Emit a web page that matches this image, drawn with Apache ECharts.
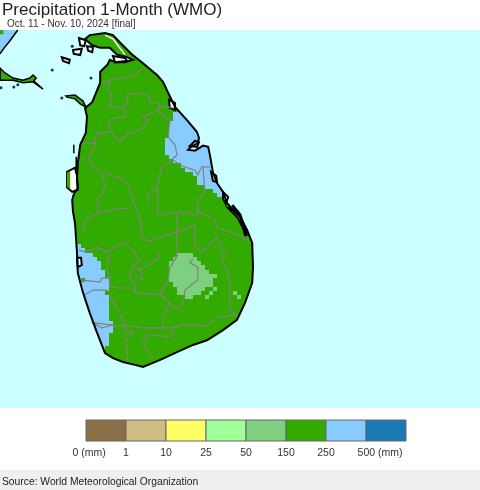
<!DOCTYPE html>
<html lang="en">
<head>
    <meta charset="UTF-8">
    <title>Precipitation 1-Month (WMO)</title>
    <style type="text/css">
        html,body{margin:0;padding:0;background:#fff;}
        #main{width:480px;height:490px;}
    </style>
</head>
<body>
<div id="main"></div>
<script src="https://cdn.jsdelivr.net/npm/echarts@6/dist/echarts.min.js"></script>
<script>
    var titleText = 'Precipitation 1-Month (WMO)';
    var subtitleText = 'Oct. 11 - Nov. 10, 2024 [final]';
    var sourceText = 'Source: World Meteorological Organization';

    // legend classes
    var legendColors = ['#8b6f47', '#d0bd86', '#ffff66', '#a0ff99', '#7fcf80', '#33aa00', '#88ccff', '#1a7ab5'];
    var legendTicks = ['0 (mm)', '1', '10', '25', '50', '150', '250', '500 (mm)'];

    // 0.05 degree raster, [row, first col, end col], counted from 78.75E / 9.85N
    var wetRuns = [
        [19,43,58],[20,43,58],[21,42,58],[22,42,58],[23,42,58],[24,42,58],[25,41,58],[26,41,58],[27,41,58],[28,41,58],
        [29,42,58],[30,43,58],[31,45,58],[32,46,58],[33,48,58],[34,49,58],[35,49,58],[36,51,58],[37,53,60],[38,54,60],
        [50,15,20],[51,15,21],[52,15,23],[53,15,24],[54,15,25],[55,15,25],[56,15,26],[57,15,26],[58,15,27],[59,15,27],
        [60,15,27],[61,15,27],[62,15,27],[63,15,27],[64,15,27],[65,15,27],[66,15,27],[67,15,27],[68,15,28],[69,15,28],
        [70,15,28],[71,15,27],[72,15,27],[73,15,27],[74,15,26],[75,15,26]
    ];
    var midRuns = [
        [52,44,48],[53,43,49],[54,42,50],[55,42,51],[56,42,52],[57,42,54],[58,42,53],[59,43,53],[60,44,51],[60,53,54],
        [61,44,50],[61,52,53],[61,58,59],[62,46,48],[62,51,52],[62,59,60]
    ];
    var highRuns = [[58,20,21],[61,26,27]];

    // lon, lat
    var coast = [
        [79.99,9.38],[80.08,9.46],[80.11,9.52],[80.18,9.49],[80.30,9.49],[80.40,9.52],[80.325,9.55],[80.20,9.58],
        [80.11,9.66],[79.99,9.66],[79.89,9.69],[79.80,9.765],[79.86,9.81],[80.05,9.835],[80.15,9.81],[80.24,9.72],
        [80.39,9.58],[80.525,9.48],[80.70,9.34],[80.775,9.26],[80.84,9.13],[80.925,8.965],[81.075,8.81],[81.20,8.67],
        [81.225,8.60],[81.21,8.54],[81.125,8.495],[81.09,8.46],[81.175,8.45],[81.275,8.51],[81.34,8.495],[81.365,8.38],
        [81.40,8.19],[81.45,8.07],[81.525,7.965],[81.575,7.835],[81.65,7.75],[81.74,7.67],[81.825,7.52],[81.89,7.365],
        [81.90,7.08],[81.89,6.895],[81.80,6.66],[81.70,6.46],[81.525,6.34],[81.325,6.22],[81.15,6.165],[80.95,6.08],
        [80.74,5.99],[80.525,5.905],[80.425,5.93],[80.275,5.965],[80.15,6.01],[80.05,6.07],[79.95,6.31],[79.86,6.54],
        [79.775,6.78],[79.71,7.01],[79.70,7.25],[79.675,7.60],[79.65,7.73],[79.64,7.87],[79.66,7.94],[79.71,8.01],
        [79.70,8.105],[79.71,8.305],[79.74,8.52],[79.81,8.66],[79.825,8.85],[79.80,8.95],[79.89,9.02],[79.99,9.25]
    ];
    var kalpitiya = [[79.56,9.095],[79.675,9.105],[79.775,9.035],[79.81,8.965],[79.74,9.0],[79.675,9.06],[79.575,9.08]];
    var indiaTail = [
        [78.74,9.42],[78.80,9.365],[78.90,9.305],[79.025,9.28],[79.11,9.305],[79.15,9.34],[79.19,9.305],[79.16,9.27],
        [79.275,9.175],[79.15,9.26],[79.025,9.25],[78.90,9.28],[78.74,9.28]
    ];
    var indiaWet = [[78.7375,9.87],[78.96,9.87],[78.86,9.74],[78.79,9.66],[78.7375,9.59]];
    var indiaHigh = [[78.7375,9.87],[78.78,9.87],[78.78,9.82],[78.7375,9.82]];
    var chilawStrip = [[79.575,8.20],[79.615,8.20],[79.615,8.01],[79.575,8.02]];

    var lagoons = [
        [[80.85,9.05],[80.925,9.01],[80.925,8.93],[80.86,8.955]],
        [[81.11,8.505],[81.175,8.565],[81.225,8.55],[81.20,8.495]],
        [[81.375,8.20],[81.44,8.155],[81.45,8.08],[81.40,8.095]],
        [[81.525,7.965],[81.59,7.905],[81.56,7.825],[81.525,7.885]],
        [[81.59,7.775],[81.71,7.74],[81.775,7.61],[81.825,7.45],[81.775,7.54],[81.71,7.66]],
        [[79.70,7.19],[79.75,7.19],[79.76,7.105],[79.71,7.08]],
        [[79.575,8.20],[79.675,8.25],[79.70,8.155],[79.71,7.99],[79.64,7.965],[79.575,8.02]],
        [[79.51,9.55],[79.61,9.52],[79.60,9.48],[79.525,9.505]],
        [[79.725,9.775],[79.81,9.75],[79.79,9.68],[79.74,9.69]],
        [[79.65,9.635],[79.76,9.65],[79.74,9.575],[79.66,9.59]],
        [[79.825,9.68],[79.90,9.67],[79.89,9.61],[79.84,9.625]],
        [[80.15,9.565],[80.30,9.54],[80.325,9.505],[80.175,9.49]]
    ];
    var shoreBits = [
        [[78.96,9.87],[78.86,9.74],[78.79,9.66],[78.7375,9.59]],
        [[79.66,8.52],[79.66,8.42]],
        [[79.69,8.38],[79.69,8.22]]
    ];
    var lagoonChain = [[[81.64,7.81],[81.74,7.69],[81.775,7.575],[81.81,7.445]]];
    var lagoonStreak = [[80.05,9.81],[80.15,9.765],[80.225,9.67],[80.30,9.58]];
    var shoreDots = [[79.39,9.40],[79.875,9.305],[78.75,9.19],[78.91,9.20],[78.96,9.225],[79.51,9.07],[79.64,9.68]];

    var districts = [
        [[80.525,9.425],[80.46,9.365],[80.34,9.32],[80.11,9.28],[80.09,9.19],[80.14,9.08],[80.09,8.965],[80.275,8.965],[80.34,9.02],[80.325,9.105],[80.49,9.13],[80.61,9.08],[80.61,9.02],[80.71,9.02],[80.74,8.965],[80.84,8.965],[80.90,8.95]],
        [[80.11,9.28],[79.99,9.235]],
        [[80.275,8.965],[80.30,8.85],[80.11,8.82],[80.09,8.75],[80.175,8.61],[80.24,8.55],[80.34,8.66],[80.425,8.66],[80.525,8.73],[80.59,8.81],[80.525,8.85],[80.71,8.92],[80.74,8.965]],
        [[80.71,8.92],[80.86,8.81],[80.84,8.61],[80.925,8.52],[80.95,8.40],[80.86,8.32],[80.76,8.26],[80.70,8.02],[80.71,7.87],[80.71,7.69],[80.925,7.72],[81.085,7.73],[81.20,7.67],[81.21,7.75],[81.21,7.87],[81.30,7.95],[81.275,8.26]],
        [[80.70,8.02],[80.59,7.95],[80.59,7.81]],
        [[80.90,8.34],[81.01,8.27],[81.175,8.22],[81.21,8.165],[81.26,8.26],[81.36,8.26]],
        [[79.76,8.54],[79.925,8.54],[79.95,8.66],[80.11,8.67]],
        [[79.925,8.54],[79.94,8.495],[79.84,8.38],[79.89,8.26],[80.01,8.19],[80.24,8.13],[80.34,8.05],[80.39,7.89],[80.425,7.81],[80.49,7.635],[80.51,7.46],[80.59,7.38],[80.76,7.44],[80.95,7.495],[80.95,7.72]],
        [[80.01,8.19],[80.05,8.05],[80.025,7.95],[79.96,7.89],[79.96,7.72]],
        [[79.775,7.48],[79.80,7.635],[79.96,7.72],[80.20,7.765],[80.39,7.78]],
        [[80.95,7.495],[81.175,7.575],[81.175,7.32],[81.26,7.25],[81.45,7.435],[81.49,7.32],[81.55,7.225],[81.51,7.14],[81.575,7.05],[81.61,6.87],[81.61,6.58],[81.70,6.495]],
        [[81.21,7.75],[81.425,7.635],[81.45,7.54],[81.61,7.495],[81.80,7.425],[81.89,7.365]],
        [[80.95,7.495],[80.95,7.26],[80.925,7.20]],
        [[79.725,7.28],[79.80,7.26],[79.95,7.31],[80.075,7.26],[80.275,7.38],[80.40,7.28],[80.49,7.165],[80.39,7.08],[80.36,6.95],[80.425,6.895],[80.425,6.78],[80.74,6.755],[80.775,6.835],[80.84,6.93],[80.86,7.07],[80.96,7.225]],
        [[80.39,7.08],[80.49,7.05],[80.74,7.20],[80.70,7.26]],
        [[80.49,7.05],[80.525,6.93],[80.425,6.99]],
        [[80.11,7.26],[80.075,7.05],[80.11,6.95]],
        [[79.74,6.93],[79.99,6.905],[80.01,6.95],[80.10,6.95],[80.11,6.85],[80.21,6.835],[80.39,6.835],[80.425,6.78]],
        [[79.80,6.755],[79.90,6.81],[80.09,6.81]],
        [[80.10,6.775],[80.21,6.58],[80.30,6.40],[80.20,6.38],[80.15,6.40],[79.90,6.425],[80.01,6.365],[80.15,6.40]],
        [[80.30,6.40],[80.49,6.365],[80.775,6.365],[80.90,6.365],[81.01,6.40],[81.325,6.39],[81.46,6.495],[81.70,6.52]],
        [[80.74,6.755],[80.86,6.66],[80.775,6.495],[80.775,6.365]],
        [[80.86,6.66],[80.96,6.58],[81.025,6.66],[81.05,6.81],[81.21,6.93],[81.21,7.08],[81.11,7.13],[81.15,7.175]],
        [[80.90,6.365],[80.90,6.31],[80.86,6.26],[80.59,6.285],[80.525,6.19],[80.64,6.02]],
        [[80.30,6.40],[80.30,6.32],[80.40,6.31],[80.30,6.22],[80.34,6.025],[80.30,5.955]]
    ];

    var cellDeg = 0.05, lonOrigin = 78.75, latOrigin = 9.85;
    var lonMin = 78.7375, lonMax = 84.7375, latMin = 5.423, latMax = 9.87;

    function toPoints(api, list){
        return list.map(function(p){ return api.coord(p); });
    }

    // filled polygons, one item per ring
    function polygonSeries(rings, fill, stroke, width){
        return {
            type: 'custom', silent: true, xAxisIndex: 0, yAxisIndex: 0,
            data: rings.map(function(r, i){ return [i]; }),
            renderItem: function(params, api){
                return {
                    type: 'polygon',
                    shape: {points: toPoints(api, rings[params.dataIndex])},
                    style: {fill: fill, stroke: stroke || null, lineWidth: width || 0}
                };
            }
        };
    }

    function lineSeries(lines, color, width){
        return {
            type: 'custom', silent: true, xAxisIndex: 0, yAxisIndex: 0,
            data: lines.map(function(r, i){ return [i]; }),
            renderItem: function(params, api){
                return {
                    type: 'polyline',
                    shape: {points: toPoints(api, lines[params.dataIndex])},
                    style: {fill: null, stroke: color, lineWidth: width}
                };
            }
        };
    }

    // cells snapped to whole pixels so neighbouring rows leave no seam
    function rasterSeries(runs, color){
        return {
            type: 'custom', silent: true, xAxisIndex: 0, yAxisIndex: 0,
            data: runs,
            renderItem: function(params, api){
                var a = api.coord([lonOrigin + api.value(1) * cellDeg, latOrigin - api.value(0) * cellDeg]);
                var b = api.coord([lonOrigin + api.value(2) * cellDeg, latOrigin - (api.value(0) + 1) * cellDeg]);
                var x = Math.round(a[0]), y = Math.round(a[1]);
                return {
                    type: 'rect',
                    shape: {x: x, y: y, width: Math.round(b[0]) - x, height: Math.round(b[1]) - y},
                    style: {fill: color}
                };
            }
        };
    }

    // sea drawn over the raster with the island cut out of it
    var seaRing = [[lonMin,latMax],[lonMin,latMin],[lonMax,latMin],[lonMax,latMax],[lonMin,latMax]]
        .concat(coast, [coast[0], [lonMin,latMax]]);

    var legendSeries = {
        type: 'custom', silent: true, xAxisIndex: 1, yAxisIndex: 1,
        data: legendColors.map(function(c, i){ return [i]; }),
        renderItem: function(params, api){
            var i = api.value(0);
            var a = api.coord([i, 1]), b = api.coord([i + 1, 0]);
            return {
                type: 'rect',
                shape: {x: a[0], y: a[1], width: b[0] - a[0], height: b[1] - a[1]},
                style: {fill: legendColors[i], stroke: '#666666', lineWidth: 1}
            };
        }
    };

    var myChart = echarts.init(document.getElementById('main'), null, {renderer: 'canvas'});

    myChart.setOption({
        animation: false,
        backgroundColor: '#fff',
        title: [
            {text: titleText, left: 2, top: 2, padding: 0, textStyle: {fontFamily: 'Liberation Sans', fontSize: 17, fontWeight: 'normal', color: '#222'}},
            {text: subtitleText, left: 7, top: 19, padding: 0, textStyle: {fontFamily: 'Liberation Sans', fontSize: 10, fontWeight: 'normal', color: '#333'}},
            {text: sourceText, left: 2, top: 477, padding: 0, textStyle: {fontFamily: 'Liberation Sans', fontSize: 10.3, fontWeight: 'normal', color: '#222'}}
        ],
        graphic: [
            {type: 'rect', z: -1, shape: {x: 0, y: 470, width: 480, height: 20}, style: {fill: '#f0eef0'}}
        ],
        grid: [
            {left: 0, top: 30, width: 480, height: 378, show: true, backgroundColor: '#ccffff', borderWidth: 0},
            {left: 86, top: 420, width: 320, height: 21, show: false}
        ],
        xAxis: [
            {type: 'value', gridIndex: 0, min: lonMin, max: lonMax, show: false},
            {
                type: 'value', gridIndex: 1, min: 0, max: 8, interval: 1,
                axisLine: {show: false}, axisTick: {show: false}, splitLine: {show: false},
                axisLabel: {
                    margin: 7, showMinLabel: true, showMaxLabel: false,
                    fontFamily: 'Liberation Sans', fontSize: 10.5, color: '#333',
                    formatter: function(v){
                        if(v === 0) return '{first|' + legendTicks[0] + '}';
                        if(v === 7) return '{last|' + legendTicks[7] + '}';
                        return legendTicks[v] || '';
                    },
                    rich: {
                        first: {padding: [0, 0, 0, 6], fontFamily: 'Liberation Sans', fontSize: 10.5, color: '#333'},
                        last: {padding: [0, 0, 0, 28], fontFamily: 'Liberation Sans', fontSize: 10.5, color: '#333'}
                    }
                }
            }
        ],
        yAxis: [
            {type: 'value', gridIndex: 0, min: latMin, max: latMax, show: false},
            {type: 'value', gridIndex: 1, min: 0, max: 1, show: false}
        ],
        series: [
            polygonSeries([coast], '#33aa00'),
            rasterSeries(wetRuns, '#88ccff'),
            rasterSeries(midRuns, '#7fcf80'),
            rasterSeries(highRuns, '#33aa00'),
            polygonSeries([seaRing], '#ccffff'),
            polygonSeries([indiaWet], '#88ccff'),
            polygonSeries([indiaHigh, indiaTail, kalpitiya], '#33aa00'),
            polygonSeries(lagoons, '#ffffff', '#000000', 2),
            polygonSeries([chilawStrip], '#33aa00'),
            lineSeries([lagoonStreak], '#ffffff', 1.5),
            lineSeries(districts, '#808080', 1.2),
            polygonSeries([coast], 'rgba(0,0,0,0)', '#000000', 2),
            polygonSeries([indiaTail, kalpitiya], 'rgba(0,0,0,0)', '#000000', 1.5),
            lineSeries(shoreBits, '#000000', 1.5),
            lineSeries(lagoonChain, '#000000', 3),
            {
                type: 'scatter', silent: true, xAxisIndex: 0, yAxisIndex: 0,
                symbolSize: 3, itemStyle: {color: '#000'}, data: shoreDots
            },
            legendSeries
        ]
    });
</script>
</body>
</html>
